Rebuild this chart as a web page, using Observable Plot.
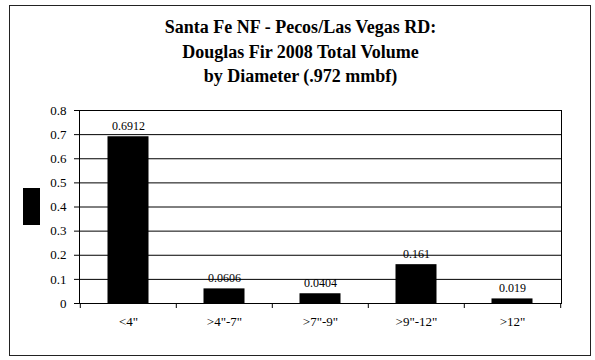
<!DOCTYPE html>
<html><head><meta charset="utf-8">
<script src="https://cdn.jsdelivr.net/npm/d3@7"></script>
<script src="https://cdn.jsdelivr.net/npm/@observablehq/plot@0.6"></script>
<style>
body{margin:0;width:595px;height:360px;position:relative;background:#fff;font-family:"Liberation Serif","Times New Roman",serif;overflow:hidden;}
#box{position:absolute;left:9px;top:5px;width:582px;height:351px;border:1px solid #222;box-sizing:border-box;}
#title{position:absolute;left:0;width:601px;top:15px;text-align:center;font-weight:bold;font-size:18px;line-height:24.5px;color:#000;}
#key{position:absolute;left:23px;top:188px;width:17px;height:37px;background:#000;}
#chart{position:absolute;left:0;top:100px;}
</style></head>
<body>
<div id="box"></div>
<div id="title">Santa Fe NF - Pecos/Las Vegas RD:<br>Douglas Fir 2008 Total Volume<br>by Diameter (.972 mmbf)</div>
<div id="key"></div>
<div id="chart"></div>
<script>
const categories = ['<4"', '>4"-7"', '>7"-9"', '>9"-12"', '>12"'];
const values = [0.6912, 0.0606, 0.0404, 0.161, 0.019];
const valueLabels = ["0.6912", "0.0606", "0.0404", "0.161", "0.019"];
const yTicks = [0, 0.1, 0.2, 0.3, 0.4, 0.5, 0.6, 0.7, 0.8];

const data = categories.map((c, i) => ({cat: c, value: values[i], label: valueLabels[i]}));
const mL = 79, mR = 34, W = 595;
const step = (W - mL - mR) / categories.length;
const fmt = d => d === 0 ? "0" : d.toFixed(1);
const serif = '"Liberation Serif","Times New Roman",serif';

const chart = Plot.plot({
  width: W, height: 260,
  marginLeft: mL, marginRight: mR, marginTop: 10, marginBottom: 57,
  x: {domain: categories, padding: 0},
  y: {domain: [0, 0.8]},
  style: {fontFamily: serif, fontSize: "13px", color: "#000", background: "transparent"},
  marks: [
    Plot.ruleY(yTicks.filter(v => v > 0 && v < 0.8), {stroke: "#000", strokeWidth: 1}),
    Plot.barY(data, {x: "cat", y: "value", fill: "#000", insetLeft: 27.5, insetRight: 27.5}),
    Plot.text(data, {x: "cat", y: "value", text: "label", lineAnchor: "bottom", dy: -7, fontSize: 12, fill: "#000", fontFamily: serif}),
    Plot.frame({stroke: "#000"}),
    Plot.axisY({ticks: yTicks, tickSize: 5, tickPadding: 8, tickFormat: fmt, label: null, fontSize: 13, fontFamily: serif}),
    Plot.axisX({tickSize: 5, dx: -step / 2, tickFormat: () => "", label: null}),
    Plot.axisX({ticks: [categories[categories.length - 1]], tickSize: 5, dx: step / 2, tickFormat: () => "", label: null}),
    Plot.axisX({tickSize: 0, tickPadding: 13, label: null, fontSize: 13, fontFamily: serif})
  ]
});
document.getElementById("chart").appendChild(chart);
</script>
</body></html>
